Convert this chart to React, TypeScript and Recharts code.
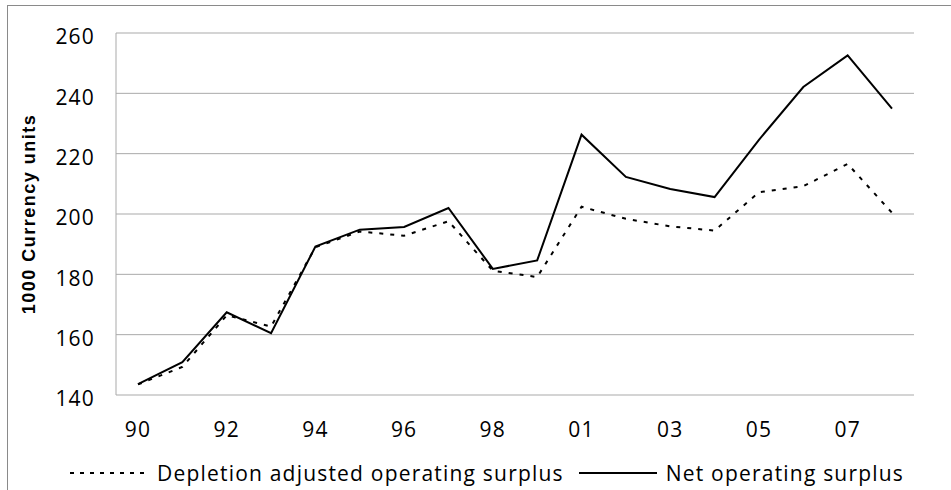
import React from "react";
import { LineChart, Line, XAxis, YAxis, CartesianGrid, Legend } from "recharts";

const years = ["90", "91", "92", "93", "94", "95", "96", "97", "98", "99", "01", "02", "03", "04", "05", "06", "07", "08"];
const netSurplus = [143.6, 150.9, 167.4, 160.5, 189.2, 194.8, 195.7, 202.0, 181.8, 184.6, 226.3, 212.3, 208.3, 205.6, 224.6, 242.1, 252.6, 234.9];
const depletionSurplus = [143.5, 149.3, 166.4, 162.7, 189.0, 194.2, 192.8, 197.6, 181.2, 179.1, 202.4, 198.4, 195.9, 194.5, 207.2, 209.2, 216.6, 200.4];
const yTicks = [140, 160, 180, 200, 220, 240, 260];

const data = years.map((year, i) => ({
  year,
  dep: depletionSurplus[i],
  net: netSurplus[i],
}));

const font = "'Open Sans', sans-serif";
const gridColor = "#a9a9a9";

const legendItems = [
  { key: "dep", label: "Depletion adjusted operating surplus", dash: "4 6" },
  { key: "net", label: "Net operating surplus", dash: undefined },
];

function ChartLegend() {
  return (
    <div style={{ display: "flex", alignItems: "center", paddingLeft: 70, height: 26 }}>
      {legendItems.map((item, i) => (
        <React.Fragment key={item.key}>
          <svg width={i === 0 ? 75 : 78} height={4} style={{ marginLeft: i === 0 ? 0 : 15, display: "block" }}>
            <line x1={0} y1={2} x2={i === 0 ? 75 : 78} y2={2} stroke="#000" strokeWidth={2} strokeDasharray={item.dash} />
          </svg>
          <span
            style={{
              marginLeft: i === 0 ? 12 : 9,
              fontFamily: font,
              fontSize: 21,
              letterSpacing: 1.2,
              lineHeight: "26px",
              color: "#000",
              whiteSpace: "nowrap",
            }}
          >
            {item.label}
          </span>
        </React.Fragment>
      ))}
    </div>
  );
}

function YLabel({ viewBox }: any) {
  const cy = viewBox.y + viewBox.height / 2;
  return (
    <text
      x={29}
      y={cy}
      transform={`rotate(-90, 29, ${cy})`}
      textAnchor="middle"
      dominantBaseline="central"
      fontFamily="'Liberation Sans', Arial, sans-serif"
      fontWeight="bold"
      fontSize={18}
      letterSpacing={1.5}
      fill="#000"
    >
      1000 Currency units
    </text>
  );
}

export default function App() {
  return (
    <div style={{ position: "absolute", left: 0, top: 0, width: 951, height: 490, overflow: "hidden", background: "#fff" }}>
      <div
        style={{
          position: "absolute",
          left: 7,
          top: 5,
          width: 1100,
          height: 700,
          border: "1px solid #8a8a8a",
        }}
      />
      <div style={{ position: "absolute", left: 0, top: 0 }}>
        <LineChart width={951} height={490} data={data} margin={{ top: 33, right: 37, bottom: 0, left: 0 }}>
          <CartesianGrid vertical={false} stroke={gridColor} strokeWidth={1} />
          <XAxis
            dataKey="year"
            interval={1}
            height={95}
            padding={{ left: 22, right: 22 }}
            axisLine={false}
            tickLine={false}
            tickSize={0}
            tickMargin={27}
            tick={{ fontFamily: font, fontSize: 21, fill: "#000", letterSpacing: 1.2 }}
          />
          <YAxis
            domain={[140, 260]}
            ticks={yTicks}
            width={116}
            axisLine={{ stroke: gridColor }}
            tickLine={false}
            tickSize={0}
            tickMargin={21}
            tick={{ fontFamily: font, fontSize: 21, fill: "#000", letterSpacing: 1.2, dy: 4 }}
            label={<YLabel />}
          />
          <Legend
            layout="horizontal"
            verticalAlign="middle"
            align="center"
            wrapperStyle={{ left: 0, top: 460, width: 951 }}
            content={() => <ChartLegend />}
          />
          <Line
            type="linear"
            dataKey="dep"
            stroke="#000"
            strokeWidth={2}
            strokeDasharray="4 7"
            dot={false}
            isAnimationActive={false}
          />
          <Line type="linear" dataKey="net" stroke="#000" strokeWidth={2} dot={false} isAnimationActive={false} />
        </LineChart>
      </div>
    </div>
  );
}
